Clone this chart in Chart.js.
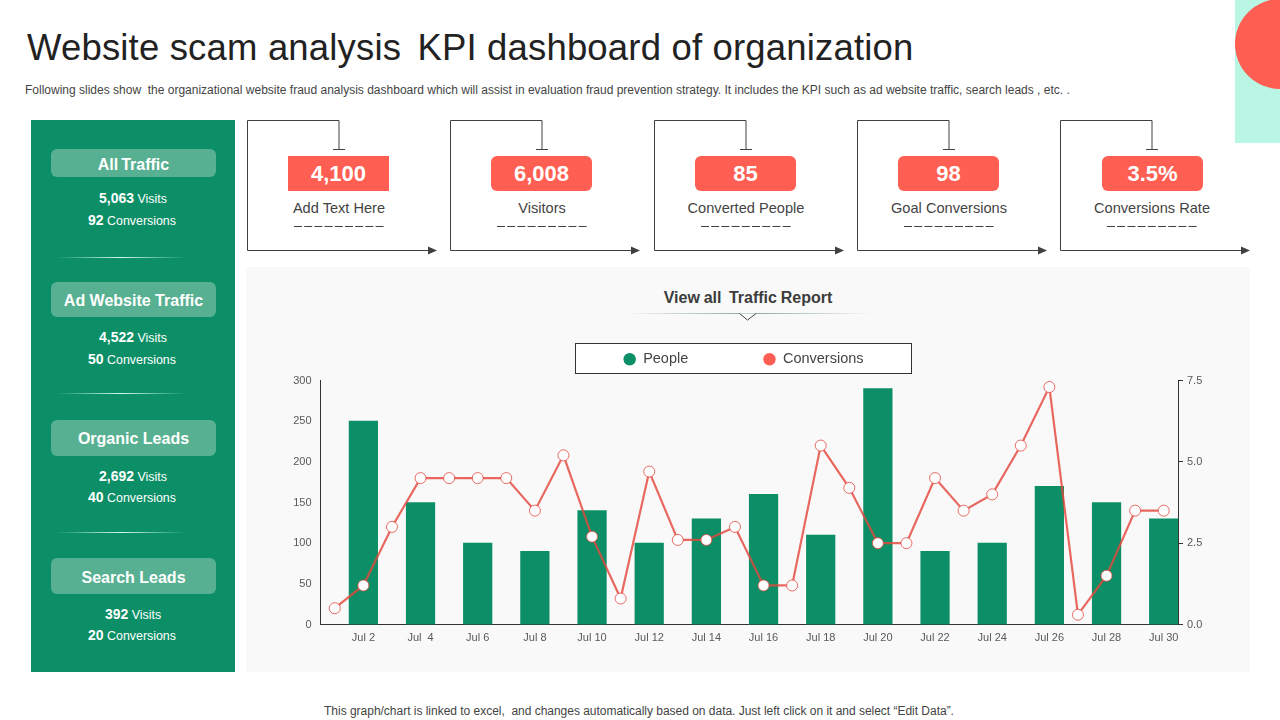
<!DOCTYPE html>
<html><head><meta charset="utf-8">
<script src="https://cdn.jsdelivr.net/npm/chart.js@4"></script>
<style>
html,body{margin:0;padding:0;background:#fff;width:1280px;height:720px;overflow:hidden;font-family:"Liberation Sans",Arial,sans-serif;}
.a{position:absolute;white-space:pre;}
#title{left:27px;top:26px;font-size:36.5px;line-height:44px;color:#222;letter-spacing:.17px;}
#title span{letter-spacing:-2px;}
#sub{left:25px;top:83px;font-size:12px;line-height:14px;color:#444;}
#side{left:31px;top:120px;width:204px;height:552px;background:#0c8f66;}
.pill{left:51px;width:165px;background:#58b092;border-radius:6px;color:#fff;font-weight:bold;font-size:16px;text-align:center;}
.st{left:31px;width:204px;text-align:center;color:#fff;font-size:12.4px;line-height:16px;}
.st b{font-size:14px;}
.div{left:56px;width:130px;height:1px;background:linear-gradient(90deg,rgba(255,255,255,0),rgba(220,255,240,.95) 50%,rgba(255,255,255,0));}
.kp{background:#ff5f52;color:#fff;font-weight:bold;font-size:22px;line-height:35px;text-align:center;width:101px;height:35px;top:156px;border-radius:6px;}
.kl{top:199px;width:180px;text-align:center;font-size:14.6px;line-height:18px;color:#444;}
#panel{left:246px;top:267px;width:1004px;height:405px;background:#f9f9f9;}
#rt{left:546px;width:404px;top:288px;text-align:center;font-weight:bold;font-size:16px;line-height:20px;color:#3c3c3c;word-spacing:-.7px;}
#rl{left:625px;top:313px;width:248px;height:1px;background:linear-gradient(90deg,rgba(12,143,102,0),rgba(90,130,115,.7) 50%,rgba(12,143,102,0));}
#lg{left:575px;top:343px;width:335px;height:29px;border:1px solid #333;background:#fff;}
#foot{left:0;width:1278px;top:704px;text-align:center;font-size:12px;line-height:14px;color:#444;letter-spacing:-.02px;}
#mint{left:1235px;top:0;width:45px;height:143px;background:#b9f7e4;}
#dot{left:1235px;top:-1px;width:90px;height:90px;border-radius:50%;background:#ff5f52;}
#cw{position:absolute;left:246px;top:277px;width:995px;height:395px;}
svg{position:absolute;left:0;top:0;}
</style></head><body>
<div class="a" id="mint"></div><div class="a" id="dot"></div>
<div class="a" id="title">Website scam analysis<span>  </span>KPI dashboard of organization</div>
<div class="a" id="sub">Following slides show  the organizational website fraud analysis dashboard which will assist in evaluation fraud prevention strategy. It includes the KPI such as ad website traffic, search leads , etc. .</div>
<div class="a" id="side"></div>
<div class="a" id="panel"></div>
<div class="a" id="rt">View all  Traffic Report</div>
<div class="a" id="rl"></div>
<div class="a" id="lg"></div>
<svg id="deco" width="1280" height="720"></svg>
<div class="a" id="foot">This graph/chart is linked to excel,  and changes automatically based on data. Just left click on it and select “Edit Data”.</div>
<div id="cw"><canvas id="c" width="995" height="395"></canvas></div>
<script>
const dayLabels = ["","Jul 2","","Jul  4","","Jul 6","","Jul 8","","Jul 10","","Jul 12","","Jul 14","","Jul 16","","Jul 18","","Jul 20","","Jul 22","","Jul 24","","Jul 26","","Jul 28","","Jul 30"];
const people = [null,250,null,150,null,100,null,90,null,140,null,100,null,130,null,160,null,110,null,290,null,90,null,100,null,170,null,150,null,130];
const conversions = [0.5,1.2,3.0,4.5,4.5,4.5,4.5,3.5,5.2,2.7,0.8,4.7,2.6,2.6,3.0,1.2,1.2,5.5,4.2,2.5,2.5,4.5,3.5,4.0,5.5,7.3,0.3,1.5,3.5,3.5];
const seriesNames = ["People","Conversions"];
const kpiValues = ["4,100","6,008","85","98","3.5%"];
const kpiNames = ["Add Text Here","Visitors","Converted People","Goal Conversions","Conversions Rate"];
const sideNames = ["All  Traffic","Ad Website Traffic","Organic Leads","Search Leads"];
const sideVisits = ["5,063","4,522","2,692","392"];
const sideConversions = ["92","50","40","20"];

const GREEN="#0c8f66", RED="#ff5f52";
function el(cls,css,html){const d=document.createElement('div');d.className='a '+cls;d.style.cssText=css;d.innerHTML=html||'';document.body.insertBefore(d,document.getElementById('deco'));return d;}
const pillTop=[149,282,420,558], pillH=[28,35,36,36], pillOff=[2,1,1,2], v1=[190,329,468,606], v2=[212,351,489,627], divY=[257,393,532];
sideNames.forEach((n,i)=>{
  const lh=pillH[i]+2*pillOff[i];
  el('pill',`top:${pillTop[i]}px;height:${pillH[i]}px;line-height:${lh}px;${i==0?'word-spacing:-3px;':''}`,n);
  el('st',`top:${v1[i]}px;`,`<b>${sideVisits[i]}</b> Visits`);
  el('st',`top:${v2[i]}px;left:30px;`,`<b>${sideConversions[i]}</b> Conversions`);
  if(i<3) el('div',`top:${divY[i]}px;`);
});
const lefts=[247,450,654,857,1060];
let s='';
lefts.forEach((x,i)=>{
  const cx=x+92;
  el('kp',`left:${x+41+(i==4?1:0)}px;${i==0?'border-radius:0;':''}`,kpiValues[i]);
  el('kl',`left:${cx-90}px;`,kpiNames[i]);
  s+=`<path d="M${cx} 149.5V120.5H${x+.5}V250.5H${x+182}" fill="none" stroke="#404040" stroke-width="1"/>`;
  s+=`<path d="M${cx-6} 149.5H${cx+6}" stroke="#404040" stroke-width="1"/>`;
  s+=`<path d="M${x+181} 246.5L${x+190} 250.5L${x+181} 254.5Z" fill="#404040"/>`;
  s+=`<path d="M${cx-45} 226.5H${cx+46}" stroke="#404040" stroke-width="1" stroke-dasharray="8 2.2"/>`;
});
s+=`<path d="M739.5 313.5L747.5 320L756 313.5" fill="#fff" stroke="#444" stroke-width="1"/>`;
document.getElementById('deco').innerHTML=s;

const fixedLegend={id:'fixedLegend',beforeInit(chart){
  const fit=chart.legend.fit;
  chart.legend.fit=function(){fit.call(this);this.height=103.5;};
}};
const tickFont={size:11,family:'"Liberation Sans"'};
new Chart(document.getElementById('c'),{
  data:{labels:dayLabels,datasets:[
    {type:'line',label:seriesNames[1],data:conversions,yAxisID:'y1',order:1,borderColor:'rgba(228,72,62,.82)',borderWidth:2.2,tension:0,
     pointRadius:5.5,pointHoverRadius:5.5,pointBackgroundColor:'#fff',pointBorderColor:'rgba(226,72,62,.8)',pointBorderWidth:1},
    {type:'bar',label:seriesNames[0],data:people,yAxisID:'y',order:2,backgroundColor:GREEN,barPercentage:1,categoryPercentage:1}
  ]},
  options:{responsive:false,animation:false,
    layout:{padding:0},
    plugins:{tooltip:{enabled:false},
      legend:{display:true,position:'top',
        labels:{usePointStyle:true,boxHeight:8.8,pointStyleWidth:12.4,padding:75,font:{size:14.5,family:'"Liberation Sans"'},color:'#444',
          generateLabels(){return [
            {text:seriesNames[0],fillStyle:GREEN,strokeStyle:GREEN,fontColor:'#444',lineWidth:0,pointStyle:'circle',datasetIndex:1},
            {text:seriesNames[1],fillStyle:RED,strokeStyle:RED,fontColor:'#444',lineWidth:0,pointStyle:'circle',datasetIndex:0}];}}}},
    scales:{
      x:{offset:true,grid:{display:false,drawTicks:false},border:{color:'#333',width:1},
        afterFit(a){a.height=47.5;},
        ticks:{autoSkip:false,maxRotation:0,padding:7,color:'#595959',font:tickFont}},
      y:{position:'left',min:0,max:300,grid:{display:false,drawTicks:false},border:{color:'#333',width:1},
        afterFit(a){a.width=74.5;},
        ticks:{stepSize:50,padding:9,color:'#595959',font:tickFont}},
      y1:{position:'right',min:0,max:7.5,grid:{display:true,drawOnChartArea:false,drawTicks:true,tickLength:5,tickColor:'#333'},border:{color:'#333',width:1},
        afterFit(a){a.width=63;},
        ticks:{stepSize:2.5,padding:4,color:'#595959',font:tickFont,callback:v=>v.toFixed(1)}}
    }
  },
  plugins:[fixedLegend]
});
</script>
</body></html>
